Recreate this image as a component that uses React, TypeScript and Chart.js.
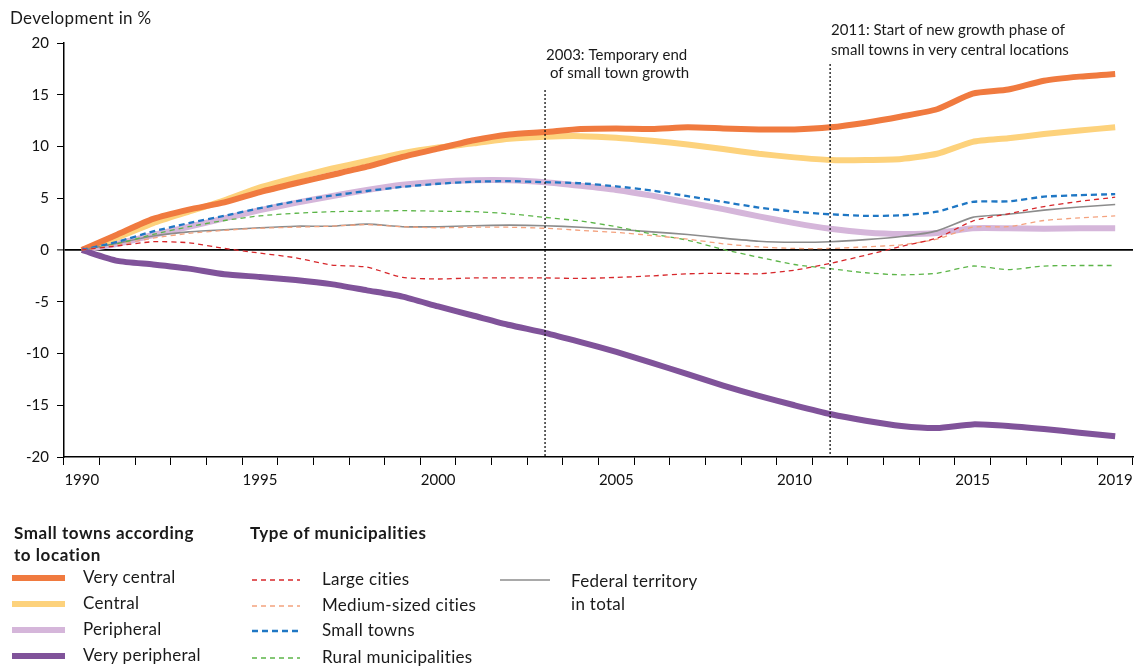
import React, { useEffect, useRef } from "react";
import { Chart, registerables } from "chart.js";

Chart.register(...registerables);

// ---------- data ----------
const years = [
  "1990", "1991", "1992", "1993", "1994", "1995", "1996", "1997", "1998", "1999",
  "2000", "2001", "2002", "2003", "2004", "2005", "2006", "2007", "2008", "2009",
  "2010", "2011", "2012", "2013", "2014", "2015", "2016", "2017", "2018", "2019",
];
const labeledYears = ["1990", "1995", "2000", "2005", "2010", "2015", "2019"];
const yTicks = [-20, -15, -10, -5, 0, 5, 10, 15, 20];

const veryCentral = [0, 1.5, 3.0, 3.9, 4.6, 5.6, 6.45, 7.25, 8.05, 9.0, 9.8, 10.6, 11.15, 11.4, 11.7, 11.75, 11.7, 11.85, 11.75, 11.65, 11.65, 11.85, 12.3, 12.9, 13.6, 15.1, 15.5, 16.35, 16.75, 17.0];
const central = [0, 1.2, 2.6, 3.7, 4.8, 6.05, 7.0, 7.85, 8.6, 9.35, 9.9, 10.3, 10.75, 10.95, 11.0, 10.85, 10.55, 10.2, 9.75, 9.3, 8.95, 8.7, 8.7, 8.8, 9.3, 10.45, 10.8, 11.2, 11.55, 11.85];
const peripheral = [0, 0.6, 1.45, 2.25, 3.05, 3.85, 4.55, 5.2, 5.8, 6.3, 6.6, 6.75, 6.75, 6.55, 6.2, 5.8, 5.25, 4.6, 3.95, 3.25, 2.6, 2.05, 1.7, 1.55, 1.65, 2.1, 2.1, 2.05, 2.1, 2.1];
const veryPeripheral = [0, -1.05, -1.4, -1.8, -2.35, -2.6, -2.9, -3.3, -3.9, -4.5, -5.45, -6.35, -7.25, -8.0, -8.9, -9.85, -10.9, -12.0, -13.1, -14.1, -15.0, -15.85, -16.5, -17.0, -17.2, -16.85, -17.0, -17.3, -17.65, -18.0];

const largeCities = [0, 0.4, 0.8, 0.7, 0.15, -0.3, -0.75, -1.45, -1.65, -2.65, -2.8, -2.7, -2.7, -2.7, -2.75, -2.65, -2.5, -2.3, -2.25, -2.3, -1.95, -1.3, -0.5, 0.35, 1.15, 2.8, 3.5, 4.2, 4.7, 5.1];
const mediumCities = [0, 0.5, 1.15, 1.6, 1.9, 2.1, 2.2, 2.3, 2.45, 2.25, 2.15, 2.2, 2.2, 2.1, 1.9, 1.7, 1.4, 1.05, 0.6, 0.3, 0.15, 0.15, 0.3, 0.5, 1.05, 2.2, 2.25, 2.85, 3.1, 3.3];
const smallTowns = [0, 0.8, 1.8, 2.6, 3.3, 4.05, 4.7, 5.25, 5.7, 6.1, 6.4, 6.6, 6.65, 6.55, 6.45, 6.15, 5.75, 5.2, 4.65, 4.1, 3.7, 3.45, 3.3, 3.35, 3.7, 4.65, 4.7, 5.15, 5.3, 5.4];
const ruralMunicipalities = [0, 0.6, 1.5, 2.25, 2.85, 3.3, 3.55, 3.7, 3.75, 3.8, 3.75, 3.7, 3.5, 3.15, 2.8, 2.25, 1.55, 0.95, 0.05, -0.7, -1.4, -1.8, -2.2, -2.4, -2.25, -1.55, -1.9, -1.55, -1.5, -1.5];
const federalTotal = [0, 0.65, 1.35, 1.75, 1.95, 2.15, 2.3, 2.3, 2.5, 2.25, 2.25, 2.35, 2.4, 2.35, 2.2, 2.0, 1.75, 1.5, 1.15, 0.85, 0.75, 0.8, 1.0, 1.3, 1.85, 3.15, 3.45, 3.85, 4.15, 4.4];

const eventYears = ["2003", "2011"];
const eventTexts = [
  ["2003: Temporary end", " of small town growth"],
  ["2011: Start of new growth phase of", "small towns in very central locations"],
];

const yTitle = "Development in %";
const groupLocationTitle = ["Small towns according", "to location"];
const groupTypeTitle = "Type of municipalities";

// ---------- styles ----------
const FONT = "Lato, 'Open Sans', sans-serif";

type SeriesDef = {
  label: string[];
  data: number[];
  color: string;
  width: number;
  dash: number[];
  group: "location" | "type" | "total";
};

const topSeries: SeriesDef[] = [
  { label: ["Large cities"], data: largeCities, color: "#d7272b", width: 1.3, dash: [5, 4], group: "type" },
  { label: ["Medium-sized cities"], data: mediumCities, color: "#f4a27e", width: 1.3, dash: [5, 4], group: "type" },
  { label: ["Small towns"], data: smallTowns, color: "#1f77c4", width: 2.3, dash: [6, 4], group: "type" },
  { label: ["Rural municipalities"], data: ruralMunicipalities, color: "#5cb548", width: 1.3, dash: [5, 4], group: "type" },
  { label: ["Federal territory", "in total"], data: federalTotal, color: "#8c8c8c", width: 1.6, dash: [], group: "total" },
];
const thickSeries: SeriesDef[] = [
  { label: ["Very central"], data: veryCentral, color: "#f07a3f", width: 6, dash: [], group: "location" },
  { label: ["Central"], data: central, color: "#fdd27c", width: 6, dash: [], group: "location" },
  { label: ["Peripheral"], data: peripheral, color: "#d5b6da", width: 6, dash: [], group: "location" },
  { label: ["Very peripheral"], data: veryPeripheral, color: "#80539a", width: 6, dash: [], group: "location" },
];
// draw order: first = on top
const drawOrder: SeriesDef[] = [
  topSeries[0], topSeries[1], topSeries[2], topSeries[3], topSeries[4],
  thickSeries[3], thickSeries[0], thickSeries[1], thickSeries[2],
];

const eventPlugin = {
  id: "events",
  afterDatasetsDraw(chart: any) {
    const { ctx, scales, chartArea } = chart;
    const x = scales.x;
    const tops = [90, 64];
    const textY = [[55, 73], [30, 50]];
    ctx.save();
    eventYears.forEach((yr, i) => {
      const px = x.getPixelForValue(years.indexOf(yr));
      ctx.beginPath();
      ctx.setLineDash([2, 2]);
      ctx.lineWidth = 1.3;
      ctx.strokeStyle = "#111";
      ctx.moveTo(px, tops[i]);
      ctx.lineTo(px, chartArea.bottom);
      ctx.stroke();
      ctx.setLineDash([]);
      ctx.fillStyle = "#1a1a1a";
      ctx.font = `15px ${FONT}`;
      ctx.textBaseline = "middle";
      ctx.textAlign = "left";
      eventTexts[i].forEach((t, j) => ctx.fillText(t, px + 1, textY[i][j]));
    });
    ctx.restore();
  },
};

function Swatch({ s, w }: { s: SeriesDef; w: number }) {
  return (
    <svg width={w} height={10} style={{ display: "block" }}>
      <line
        x1={0}
        y1={5}
        x2={w}
        y2={5}
        stroke={s.color}
        strokeWidth={s.width}
        strokeDasharray={s.dash.length ? s.dash.join(" ") : undefined}
      />
    </svg>
  );
}

export default function App() {
  const canvasRef = useRef<HTMLCanvasElement | null>(null);

  useEffect(() => {
    document.body.style.margin = "0";
    const canvas = canvasRef.current;
    if (!canvas) return;
    const chart = new Chart(canvas, {
      type: "line",
      data: {
        labels: years,
        datasets: drawOrder.map((s) => ({
          label: s.label.join(" "),
          data: s.data,
          borderColor: s.color,
          backgroundColor: s.color,
          borderWidth: s.width,
          borderDash: s.dash,
          pointRadius: 0,
          tension: 0.2,
          fill: false,
          borderCapStyle: "butt" as const,
          borderJoinStyle: "round" as const,
        })),
      },
      options: {
        responsive: false,
        animation: false,
        events: [],
        layout: { padding: { left: 0, right: 9, top: 43, bottom: 183 } },
        plugins: {
          legend: { display: false },
          tooltip: { enabled: false },
          title: { display: false },
        },
        scales: {
          x: {
            type: "category",
            offset: true,
            border: { display: true, color: "#000", width: 1.5 },
            grid: {
              offset: true,
              drawOnChartArea: false,
              drawTicks: true,
              tickLength: 8,
              tickColor: "#000",
              tickWidth: 1,
              color: "#000",
            },
            ticks: {
              autoSkip: false,
              maxRotation: 0,
              padding: 6,
              color: "#111",
              font: { family: FONT, size: 15 },
              callback: (v: any, i: number) => (labeledYears.includes(years[i]) ? years[i] : ""),
            },
            afterFit: (scale: any) => {
              scale.height = 30;
            },
          },
          y: {
            min: -20,
            max: 20,
            border: { display: true, color: "#000", width: 1.5 },
            grid: {
              drawOnChartArea: true,
              drawTicks: true,
              tickLength: 7,
              tickColor: "#000",
              tickWidth: 1,
              color: (c: any) => (c.tick && c.tick.value === 0 ? "#000" : "rgba(0,0,0,0)"),
              lineWidth: (c: any) => (c.tick && c.tick.value === 0 ? 1.8 : 1),
            },
            afterBuildTicks: (scale: any) => {
              scale.ticks = yTicks.map((v) => ({ value: v }));
            },
            ticks: {
              padding: 8,
              color: "#111",
              font: { family: FONT, size: 15 },
            },
            afterFit: (scale: any) => {
              scale.width = 64;
            },
          },
        },
      },
      plugins: [eventPlugin],
    });
    return () => chart.destroy();
  }, []);

  const textStyle: React.CSSProperties = {
    position: "absolute",
    fontFamily: FONT,
    fontSize: 17,
    letterSpacing: "0.3px",
    color: "#1a1a1a",
    lineHeight: "20px",
    whiteSpace: "nowrap",
  };
  const boldStyle: React.CSSProperties = {
    ...textStyle,
    fontWeight: 700,
    fontSize: 17,
    letterSpacing: "0.55px",
    lineHeight: "22px",
  };

  const locRows = [578, 604, 630, 656];
  const typeRows = [580, 606, 631, 658];

  return (
    <div style={{ position: "relative", width: 1142, height: 670, overflow: "hidden", background: "#fff" }}>
      <canvas ref={canvasRef} width={1142} height={670} style={{ position: "absolute", left: 0, top: 0 }} />
      <div style={{ ...textStyle, left: 10, top: 8 }}>{yTitle}</div>

      <div style={{ ...boldStyle, left: 14, top: 522 }}>
        {groupLocationTitle[0]}
        <br />
        {groupLocationTitle[1]}
      </div>
      {thickSeries.map((s, i) => (
        <React.Fragment key={s.label[0]}>
          <div style={{ position: "absolute", left: 12, top: locRows[i] - 5 }}>
            <Swatch s={s} w={53} />
          </div>
          <div style={{ ...textStyle, left: 83, top: locRows[i] - 11 }}>{s.label[0]}</div>
        </React.Fragment>
      ))}

      <div style={{ ...boldStyle, left: 250, top: 522 }}>{groupTypeTitle}</div>
      {topSeries.slice(0, 4).map((s, i) => (
        <React.Fragment key={s.label[0]}>
          <div style={{ position: "absolute", left: 252, top: typeRows[i] - 5 }}>
            <Swatch s={s} w={48} />
          </div>
          <div style={{ ...textStyle, left: 322, top: typeRows[i] - 11 }}>{s.label[0]}</div>
        </React.Fragment>
      ))}

      <div style={{ position: "absolute", left: 500, top: 580 - 5 }}>
        <Swatch s={topSeries[4]} w={50} />
      </div>
      <div style={{ ...textStyle, left: 571, top: 580 - 11, lineHeight: "23px" }}>
        {topSeries[4].label[0]}
        <br />
        {topSeries[4].label[1]}
      </div>
    </div>
  );
}
